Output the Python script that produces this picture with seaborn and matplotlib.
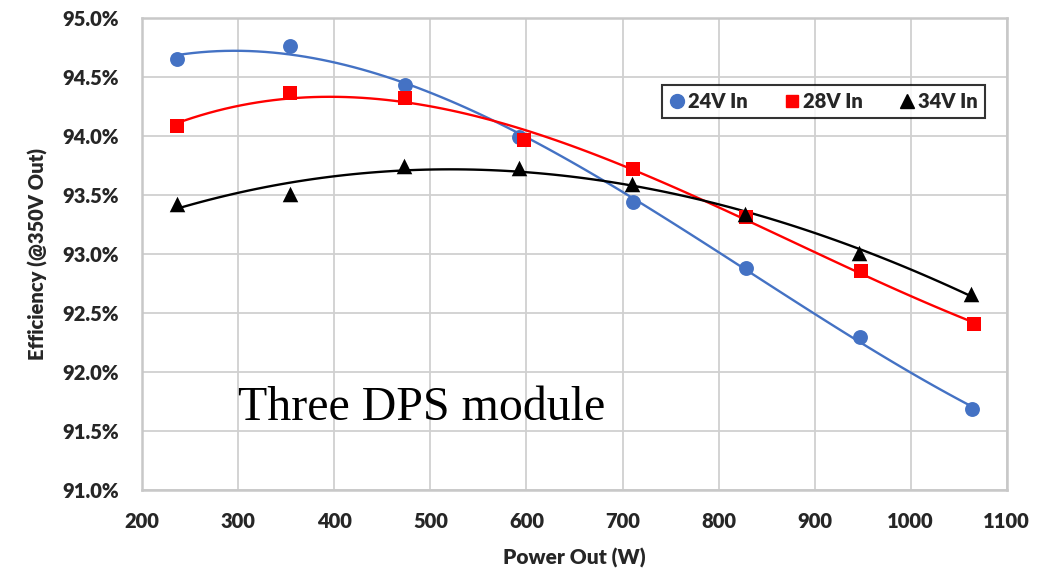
import numpy as np
import pandas as pd
import matplotlib
matplotlib.use("Agg")
import matplotlib.pyplot as plt
from matplotlib.ticker import FuncFormatter, MultipleLocator
from matplotlib.lines import Line2D
import seaborn as sns

# ---- data ----
power_24v = [236, 354, 474, 592, 711, 829, 947, 1064]
eff_24v = [94.65, 94.76, 94.43, 93.99, 93.44, 92.88, 92.29, 91.68]
power_28v = [236, 354, 474, 597, 711, 829, 948, 1066]
eff_28v = [94.08, 94.36, 94.32, 93.96, 93.72, 93.31, 92.85, 92.40]
power_34v = [236, 354, 472, 592, 710, 828, 946, 1063]
eff_34v = [93.42, 93.51, 93.74, 93.73, 93.59, 93.34, 93.01, 92.66]

series_labels = ["24V In", "28V In", "34V In"]
x_label = "Power Out (W)"
y_label = "Efficiency (@350V Out)"
note_text = "Three DPS module"

sns.set_theme(style="white")
plt.rcParams["font.family"] = ["Lato", "DejaVu Sans"]
W = "heavy"

fig = plt.figure(figsize=(10.4, 5.71), dpi=100)
ax = fig.add_axes([0.1368, 0.1424, 0.8312, 0.8266])

styles = [
    (power_24v, eff_24v, "#4472C4", "o", 115),
    (power_28v, eff_28v, "#FF0000", "s", 95),
    (power_34v, eff_34v, "#000000", "^", 125),
]
for xs, ys, col, mk, sz in styles:
    df = pd.DataFrame({"x": xs, "y": ys})
    sns.regplot(data=df, x="x", y="y", order=3, ci=None, ax=ax, marker=mk,
                color=col, truncate=True,
                scatter_kws={"s": sz, "color": col, "alpha": 1, "zorder": 4, "linewidths": 0},
                line_kws={"color": col, "lw": 1.7, "zorder": 3})

ax.set_xlim(200, 1100)
ax.set_ylim(91.0, 95.0)
ax.xaxis.set_major_locator(MultipleLocator(100))
ax.yaxis.set_major_locator(MultipleLocator(0.5))
ax.yaxis.set_major_formatter(FuncFormatter(lambda v, p: f"{v:.1f}%"))
ax.grid(True, color="#d0d0d0", lw=1.3)
ax.set_axisbelow(True)
for s in ax.spines.values():
    s.set_color("#c8c8c8")
    s.set_linewidth(1.8)
ax.tick_params(axis="x", length=0, labelsize=14.5, pad=16)
ax.tick_params(axis="y", length=0, labelsize=14.5, pad=17)
for lab in ax.get_xticklabels() + ax.get_yticklabels():
    lab.set_fontweight(W)

ax.set_xlabel(x_label, fontsize=15, fontweight=W, labelpad=12)
ax.set_ylabel(y_label, fontsize=14.5, fontweight=W, labelpad=10)

ax.text(0.111, 0.148, note_text, transform=ax.transAxes,
        fontsize=34.5, family=["Liberation Serif", "DejaVu Serif"], color="black",
        va="baseline", ha="left")

handles = [Line2D([], [], ls="none", marker="o", color="#4472C4", markersize=10),
           Line2D([], [], ls="none", marker="s", color="#FF0000", markersize=9),
           Line2D([], [], ls="none", marker="^", color="#000000", markersize=10)]
leg = ax.legend(handles, series_labels, ncol=3, loc="upper right",
                bbox_to_anchor=(0.975, 0.857), borderaxespad=0, frameon=True,
                fancybox=False, edgecolor="black", handlelength=0.8,
                handletextpad=0.15, columnspacing=1.8, borderpad=0.35,
                prop={"weight": W, "size": 14.5})
leg.get_frame().set_linewidth(1.5)

fig.savefig("out.png", dpi=100)
